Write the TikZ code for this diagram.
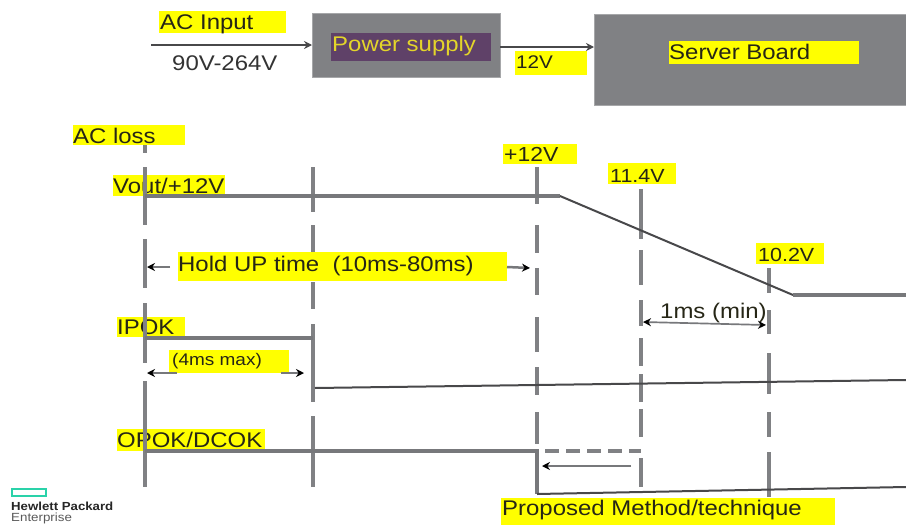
\documentclass[tikz,border=0pt]{standalone}
\usepackage{fontspec}
\setmainfont[FakeStretch=1.13]{Liberation Sans}
\usetikzlibrary{arrows.meta}
\definecolor{boxgray}{HTML}{808184}
\definecolor{linegray}{HTML}{808184}
\definecolor{sigline}{HTML}{77787B}
\definecolor{darkline}{HTML}{48484A}
\definecolor{purplebar}{HTML}{5F4168}
\definecolor{plabel}{HTML}{E3D52A}
\definecolor{hlyellow}{HTML}{FFFF00}
\definecolor{ink}{HTML}{262616}
\definecolor{hpegreen}{HTML}{2AD2A9}
\tikzset{
  x=1pt,y=-1pt,
  txt/.style={anchor=base west,inner sep=0pt,text=ink,font=\fontsize{21.2}{24}\selectfont},
  smalltxt/.style={txt,font=\fontsize{16.8}{20}\selectfont},
  grayblock/.style={fill=boxgray,draw=boxgray!70!white,line width=.6pt},
  vline/.style={draw=linegray,line width=3.2pt},
  sig/.style={draw=sigline,line width=3.3pt},
  thin sig/.style={draw=darkline,line width=2pt},
  arr/.style={draw=darkline,line width=2pt,-{Stealth[length=8pt,width=8pt]}},
  thinarr/.style={draw=sigline,line width=2.5pt,-{Stealth[length=8pt,width=8pt,color=black]}},
}
\newcommand{\hlbox}[4]{\fill[hlyellow] (#1,#2) rectangle (#3,#4);}
\begin{document}
\begin{tikzpicture}
\useasboundingbox (0,0) rectangle (906,525);
\fill[white] (0,0) rectangle (906,525);

% top blocks
\path[grayblock] (312,13) rectangle (500,77);
\coordinate (psL) at (312,45);
\coordinate (psR) at (500,47);
\path[grayblock] (594,14) rectangle (906.5,105);
\coordinate (sbL) at (594,47);
\coordinate (acin) at (151,45);
\fill[purplebar] (331,33) rectangle (491,61);

% yellow highlights
\hlbox{159}{11}{286}{33}
\hlbox{515}{51}{587}{75}
\hlbox{669}{41}{859}{64}
\hlbox{73}{125}{185}{145}
\hlbox{113}{175}{225}{196}
\hlbox{178}{252}{507}{281}
\hlbox{117}{317}{185}{337}
\hlbox{169}{350}{289}{373}
\hlbox{117}{429}{265}{451}
\hlbox{503}{144}{577}{164}
\hlbox{608}{163}{676}{184}
\hlbox{756}{243}{824}{264}
\hlbox{501}{498}{835}{525}

% top connectors
\draw[arr] (acin) -- (psL);
\draw[arr,line width=2.8pt] (psR) -- (sbL);

% texts
\node[txt] (acinput) at (160,29) {AC Input};
\node[txt,text=plabel] (pstext) at (332,51) {Power supply};
\node[txt,text=black!80] (vrange) at (172,70) {90V-264V};
\node[txt,font=\fontsize{18.3}{22}\selectfont] (v12a) at (516,68) {12V};
\node[txt] (sbtext) at (669,59) {Server Board};
\node[txt] (acloss) at (73,143) {AC loss};
\node[txt] (vout) at (113,193) {Vout/+12V};
\node[txt] (hold) at (178,271) {Hold UP time\ \ (10ms-80ms)};
\node[txt] (ipok) at (117,334) {IPOK};
\node[smalltxt] (four) at (172,365) {(4ms max)};
\node[txt] (opok) at (117,447) {OPOK/DCOK};
\node[txt,font=\fontsize{20.3}{24}\selectfont] (v12b) at (504,161) {+12V};
\node[txt,font=\fontsize{19}{22}\selectfont] (v114) at (610,182) {11.4V};
\node[txt,font=\fontsize{19}{22}\selectfont] (v102) at (758,261) {10.2V};
\node[txt] (onems) at (660,318) {1ms (min)};
\node[txt] (prop) at (502,515) {Proposed Method/technique};

% vertical dashed markers
\foreach \a/\b in {145/153,167/225,239/288,303/363,381/487}
  \draw[vline] (145,\a) -- (145,\b);
\foreach \a/\b in {167/212,225/252,282/309,324/402,416/487}
  \draw[vline] (313,\a) -- (313,\b);
\foreach \a/\b in {167/204,225/253,268/295,317/352,367/395,412/444}
  \draw[vline] (537,\a) -- (537,\b);
\foreach \a/\b in {189/239,250/285,300/326,338/366,374/402,409/437,458/487}
  \draw[vline] (641,\a) -- (641,\b);
\foreach \a/\b in {268/293,310/334,353/394,412/437,452/497}
  \draw[vline] (769,\a) -- (769,\b);

% signals
\coordinate (voA) at (145,196);
\coordinate (voB) at (560,196);
\coordinate (voC) at (793,295);
\coordinate (voD) at (906,295);
\draw[sig] (voA) -- (voB);
\draw[thin sig] (voB) -- (voC);
\draw[sig] (voC) -- (voD);

\coordinate (ipA) at (145,338);
\coordinate (ipB) at (313,338);
\coordinate (ipC) at (315,388);
\coordinate (ipD) at (906,380);
\draw[sig] (ipA) -- (ipB);
\draw[thin sig] (ipC) -- (ipD);

\coordinate (opA) at (145,451);
\coordinate (opB) at (537,451);
\coordinate (opC) at (537,494);
\coordinate (opD) at (906,487);
\coordinate (dsA) at (545,451);
\coordinate (dsB) at (641,451);
\draw[sig,line join=miter] (opA) -- (opB) -- (opC);
\draw[thin sig] (opC) -- (opD);
\draw[draw=linegray,line width=3.3pt,dash pattern=on 14pt off 7pt] (dsA) -- (dsB);

% measurement arrows
\coordinate (hA) at (170,267);
\coordinate (hB) at (147,267);
\coordinate (hC) at (507,267);
\coordinate (hD) at (530,268);
\draw[thinarr] (hA) -- (hB);
\draw[thinarr] (hC) -- (hD);
\coordinate (fA) at (177,373);
\coordinate (fB) at (147,373);
\coordinate (fC) at (281,373);
\coordinate (fD) at (304,373);
\draw[thinarr] (fA) -- (fB);
\draw[thinarr] (fC) -- (fD);
\coordinate (mB) at (643,322);
\coordinate (mC) at (766,325);
\draw[thinarr,line width=1.7pt,{Stealth[length=8pt,width=8pt,color=black]}-{Stealth[length=8pt,width=8pt,color=black]}] (mB) -- (mC);
\coordinate (pA) at (631,466);
\coordinate (pB) at (542,466);
\draw[thinarr] (pA) -- (pB);

% logo
\draw[hpegreen,line width=2pt] (11.5,488.5) rectangle (46,495.5);
\node[anchor=base west,inner sep=0pt,text=black!85,font=\fontsize{11.7}{13}\selectfont\bfseries] (hpe) at (11,510) {Hewlett Packard};
\node[anchor=base west,inner sep=0pt,text=black!65,font=\fontsize{11.8}{13}\selectfont] (ent) at (11,521) {Enterprise};
\end{tikzpicture}
\end{document}
